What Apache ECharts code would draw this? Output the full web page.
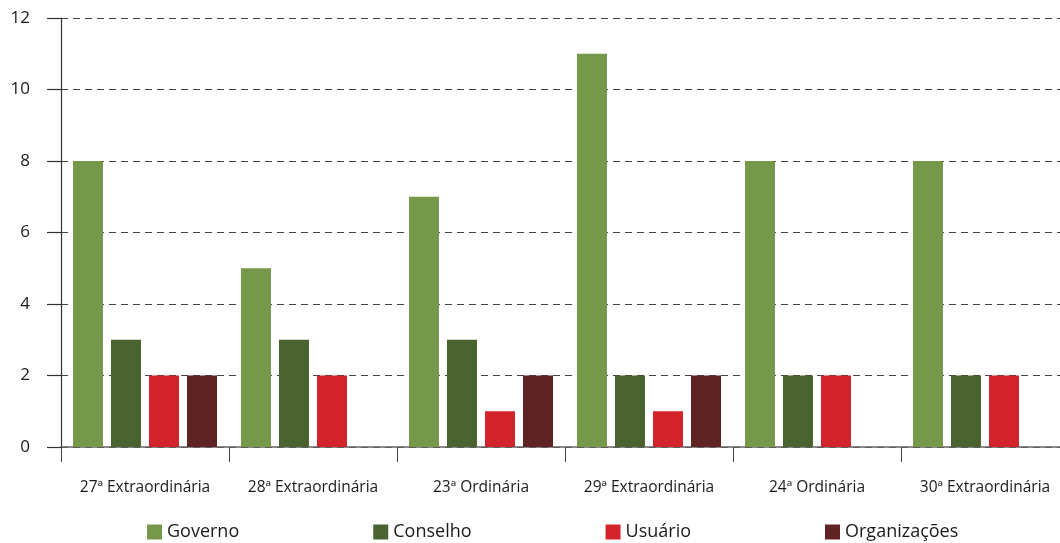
<!DOCTYPE html>
<html>
<head>
<meta charset="utf-8">
<script src="https://cdn.jsdelivr.net/npm/echarts@6/dist/echarts.min.js"></script>
<style>
  html, body { margin: 0; padding: 0; background: #fff; overflow: hidden; width: 1060px; height: 543px; }
  #chart { width: 1072px; height: 543px; }
</style>
</head>
<body>
<div id="chart"></div>
<script>
// Participation per meeting, by group
const categories = ['27ª Extraordinária', '28ª Extraordinária', '23ª Ordinária', '29ª Extraordinária', '24ª Ordinária', '30ª Extraordinária'];
const governo = [8, 5, 7, 11, 8, 8];
const conselho = [3, 3, 3, 2, 2, 2];
const usuario = [2, 2, 1, 1, 2, 2];
const organizacoes = [2, null, 2, 2, null, null];
const yTicks = [0, 2, 4, 6, 8, 10, 12];

const seriesNames = ['Governo', 'Conselho', 'Usuário', 'Organizações'];
const seriesData = [governo, conselho, usuario, organizacoes];
const colors = ['#76984a', '#4a6331', '#d4242b', '#5e2322'];

const font = '"Open Sans", "Noto Sans", sans-serif';

const chart = echarts.init(document.getElementById('chart'), null, { renderer: 'canvas' });
chart.setOption({
  animation: false,
  color: colors,
  grid: { left: 61, top: 18, width: 1008, height: 429, containLabel: false },
  legend: {
    data: seriesNames,
    left: 142,
    top: 518,
    itemWidth: 15,
    itemHeight: 15,
    itemGap: 134,
    icon: 'rect',
    textStyle: { fontFamily: font, fontSize: 18, color: '#1a1a1a' }
  },
  xAxis: {
    type: 'category',
    data: categories,
    axisLine: { lineStyle: { color: '#666', width: 1.5 } },
    axisTick: { show: true, interval: 0, length: 15, lineStyle: { color: '#444', width: 1 } },
    axisLabel: { interval: 0, hideOverlap: false, margin: 33, fontFamily: font, fontSize: 15.5, color: '#1a1a1a' }
  },
  yAxis: {
    type: 'value',
    min: yTicks[0],
    max: yTicks[yTicks.length - 1],
    interval: yTicks[1] - yTicks[0],
    axisLine: { show: true, lineStyle: { color: '#333', width: 1.2 } },
    axisTick: { show: true, length: 14, lineStyle: { color: '#333', width: 1.2 } },
    axisLabel: { margin: 31, fontFamily: font, fontSize: 17, color: '#1a1a1a' },
    splitLine: { show: true, lineStyle: { color: '#444', type: [7, 5], width: 1 } }
  },
  series: seriesNames.map((name, i) => ({
    name: name,
    type: 'bar',
    data: seriesData[i],
    barWidth: 30,
    barGap: '26.7%',
    itemStyle: { color: colors[i] }
  }))
});
</script>
</body>
</html>
